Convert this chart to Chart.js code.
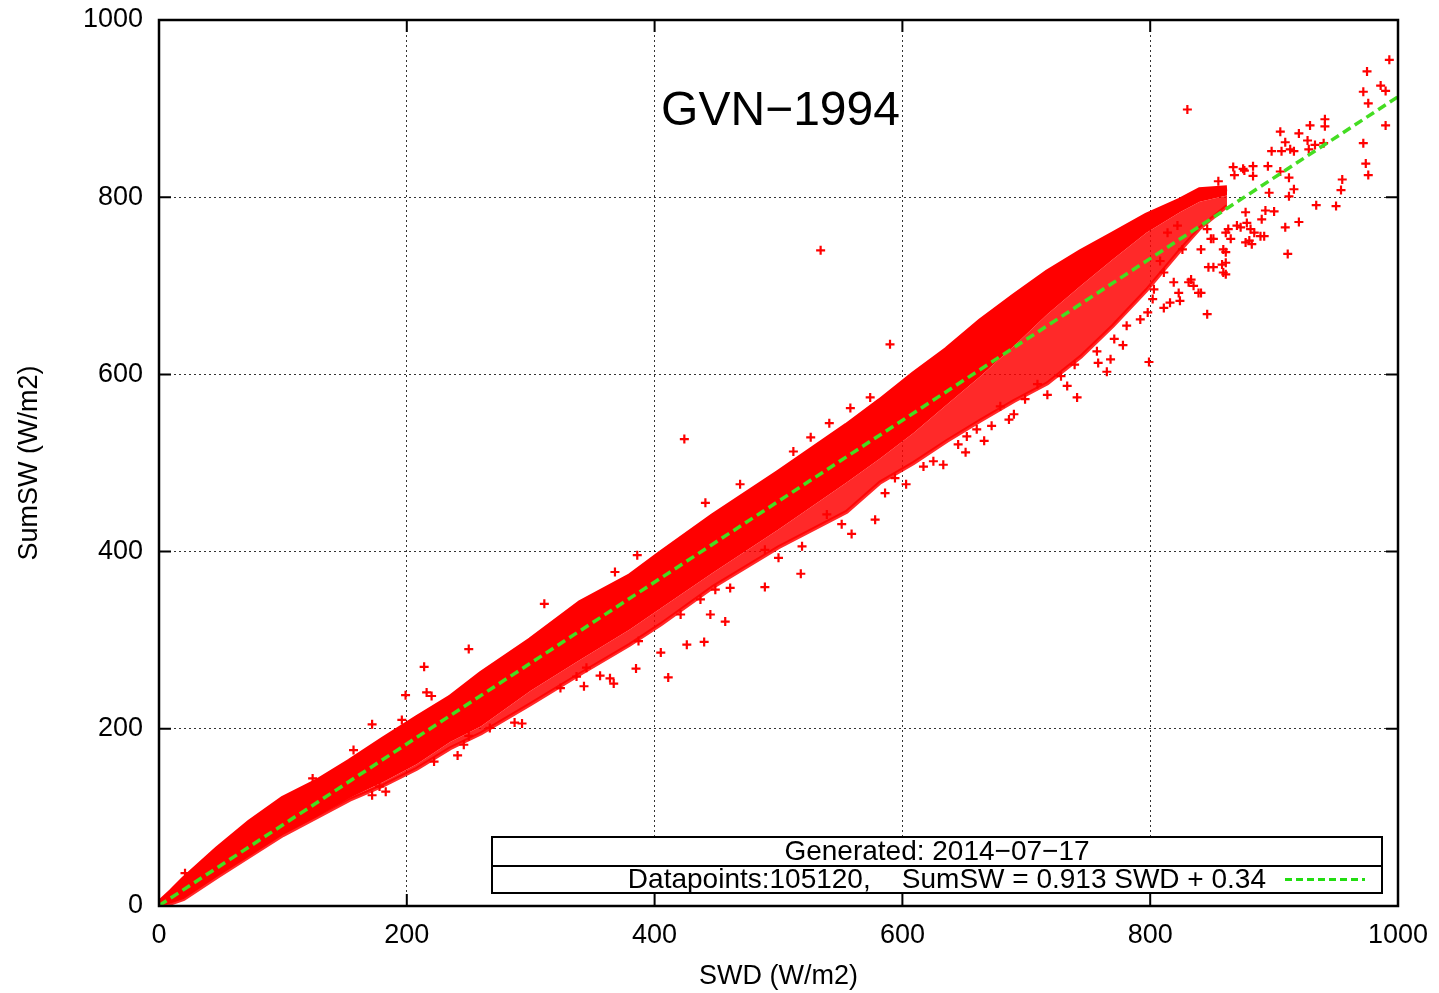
<!DOCTYPE html>
<html>
<head>
<meta charset="utf-8">
<title>GVN-1994 SumSW vs SWD</title>
<script src="https://cdn.jsdelivr.net/npm/chart.js@4.4.1/dist/chart.umd.min.js"></script>
<style>
  html, body { margin: 0; padding: 0; background: #fff; }
  #plot { display: block; }
</style>
</head>
<body>
<canvas id="plot" width="1439" height="993"></canvas>
<script>
const STATION = "GVN\u22121994";
const GENERATED = "Generated: 2014\u221207\u221217";
const DATAPOINTS = 105120;
const FIT_SLOPE = 0.913;
const FIT_OFFSET = 0.34;

const AXIS_TICKS = [0, 200, 400, 600, 800, 1000];
const FONT = "'Liberation Sans', Arial, sans-serif";

// outline of the packed point cloud, sampled along SWD
const bandSwd    = [0, 10, 20, 47, 73, 100, 127, 154, 181, 208, 235, 260, 300, 340, 380, 405, 447, 500, 555, 582, 609, 636, 663, 690, 717, 744, 770, 797, 824, 840, 862];
const bandTop    = [3, 16, 30, 64, 94, 121, 140, 163, 188, 212, 235, 262, 300, 342, 372, 398, 440, 489, 542, 570, 600, 628, 660, 688, 715, 738, 758, 779, 796, 808, 810];
const bandCore   = [0, 3, 8, 33, 56, 80, 100, 122, 140, 160, 185, 203, 243, 278, 312, 336, 376, 425, 478, 505, 534, 566, 598, 632, 668, 700, 730, 760, 783, 795, 802];
const bandFringe = [0, 3, 8, 33, 56, 80, 100, 120, 136, 155, 178, 195, 228, 262, 295, 318, 360, 405, 445, 478, 500, 525, 548, 570, 590, 620, 655, 695, 740, 765, 790];

// loose points around the cloud
const outSwd = [993, 975, 972, 986, 990, 976, 990, 972, 974, 976, 955, 954, 950, 934, 920, 909, 911, 830, 905, 920,
  929, 941, 941, 909, 913, 898, 906, 927, 933, 940, 928, 895, 905, 912, 916, 896, 912, 883, 875, 883,
  868, 893, 900, 877, 890, 892, 870, 881, 884, 877, 882, 861, 865, 861, 861, 861, 851, 846, 846, 849,
  841, 841, 835, 833, 823, 816, 819, 826, 822, 811, 808, 814, 803, 798, 802, 867, 876, 855, 916, 741,
  733, 765, 799, 758, 768, 717, 709, 699, 690, 686, 679, 672, 666, 660, 651, 645, 728, 739, 771, 781,
  792, 811, 824, 839, 831, 847, 859, 858, 851, 859, 863, 873, 878, 880, 889, 757, 778, 652, 534, 590,
  424, 441, 469, 386, 368, 311, 518, 489, 578, 559, 457, 445, 426, 440, 405, 387, 633, 603, 594, 586,
  551, 539, 519, 500, 489, 461, 449, 437, 421, 625, 617, 558, 541, 526, 512, 574, 411, 250, 214, 216,
  220, 199, 196, 172, 385, 367, 364, 356, 345, 337, 343, 324, 287, 293, 246, 250, 267, 157, 124, 21,
  241, 183, 172, 178, 222];
const outSum = [955, 942, 919, 926, 920, 906, 881, 861, 838, 825, 820, 808, 790, 791, 772, 766, 736, 899, 874, 872,
  881, 888, 880, 862, 854, 852, 852, 864, 859, 861, 854, 835, 829, 822, 809, 805, 801, 835, 832, 824,
  825, 785, 784, 783, 775, 756, 768, 764, 760, 749, 747, 760, 753, 738, 726, 713, 721, 668, 764, 753,
  741, 692, 700, 707, 692, 681, 704, 741, 768, 715, 728, 760, 696, 670, 685, 834, 830, 818, 852, 574,
  587, 603, 614, 613, 617, 577, 589, 572, 555, 549, 564, 542, 525, 538, 512, 521, 598, 611, 640, 655,
  662, 675, 683, 692, 704, 721, 715, 724, 753, 741, 764, 766, 771, 751, 756, 626, 633, 530, 740, 634,
  527, 455, 476, 396, 377, 341, 375, 360, 436, 420, 321, 329, 295, 298, 286, 299, 498, 476, 483, 466,
  431, 442, 406, 393, 402, 359, 357, 346, 329, 502, 496, 562, 545, 529, 513, 574, 258, 290, 270, 241,
  237, 238, 210, 205, 268, 251, 257, 260, 269, 259, 248, 246, 207, 206, 182, 192, 201, 176, 144, 37,
  170, 129, 125, 135, 163];

function pairs(xs, ys) {
  return xs.map((x, i) => ({ x, y: ys[i] }));
}

// gnuplot-style frame with inward ticks on all four sides
const frameTicks = {
  id: "frameTicks",
  afterDraw(chart) {
    const { ctx, chartArea: a, scales: { x, y } } = chart;
    const len = 12;
    ctx.save();
    ctx.strokeStyle = "#000";
    ctx.setLineDash([]);
    ctx.lineWidth = 2;
    ctx.beginPath();
    AXIS_TICKS.forEach((v) => {
      const px = x.getPixelForValue(v);
      ctx.moveTo(px, a.bottom); ctx.lineTo(px, a.bottom - len);
      ctx.moveTo(px, a.top); ctx.lineTo(px, a.top + len);
      const py = y.getPixelForValue(v);
      ctx.moveTo(a.left, py); ctx.lineTo(a.left + len, py);
      ctx.moveTo(a.right, py); ctx.lineTo(a.right - len, py);
    });
    ctx.stroke();
    ctx.lineWidth = 2.5;
    ctx.strokeRect(a.left, a.top, a.right - a.left, a.bottom - a.top);
    ctx.restore();
  },
};

// station name inside the plot and the boxed key in the lower right
const annotations = {
  id: "annotations",
  afterDatasetsDraw(chart) {
    const { ctx, chartArea: a, scales: { x } } = chart;
    ctx.save();
    ctx.fillStyle = "#000";
    ctx.font = "48px " + FONT;
    ctx.textAlign = "center";
    ctx.textBaseline = "alphabetic";
    ctx.fillText(STATION, x.getPixelForValue(500) + 2, a.top + 105);

    const right = a.right - 16;
    const left = a.left + 333;
    const bottom = a.bottom - 13;
    const top = bottom - 56;
    const mid = top + 29;
    ctx.fillStyle = "#fff";
    ctx.fillRect(left, top, right - left, bottom - top);
    ctx.strokeStyle = "#000";
    ctx.lineWidth = 2;
    ctx.strokeRect(left, top, right - left, bottom - top);
    ctx.beginPath();
    ctx.moveTo(left, mid);
    ctx.lineTo(right, mid);
    ctx.stroke();

    ctx.fillStyle = "#000";
    ctx.font = "28px " + FONT;
    ctx.textBaseline = "middle";
    ctx.textAlign = "center";
    ctx.fillText(GENERATED, (left + right) / 2, (top + mid) / 2 + 1);
    ctx.textAlign = "right";
    const fitText = "Datapoints:" + DATAPOINTS + ",    SumSW = " + FIT_SLOPE + " SWD + " + FIT_OFFSET;
    ctx.fillText(fitText, right - 116, (mid + bottom) / 2 + 1);

    ctx.strokeStyle = "#22dd11";
    ctx.lineWidth = 3;
    ctx.setLineDash([7, 4]);
    ctx.beginPath();
    ctx.moveTo(right - 97, (mid + bottom) / 2);
    ctx.lineTo(right - 17, (mid + bottom) / 2);
    ctx.stroke();
    ctx.restore();
  },
};

const axisFont = { family: FONT, size: 27 };
const plainTick = (v) => String(v);

new Chart(document.getElementById("plot"), {
  type: "line",
  data: {
    datasets: [
      {
        label: "fit",
        data: [
          { x: 0, y: FIT_SLOPE * 0 + FIT_OFFSET },
          { x: 1000, y: FIT_SLOPE * 1000 + FIT_OFFSET },
        ],
        borderColor: "#44dd22",
        borderWidth: 3.5,
        borderDash: [9, 5],
        pointRadius: 0,
        fill: false,
      },
      {
        label: "loose",
        data: pairs(outSwd, outSum),
        showLine: false,
        pointStyle: "cross",
        pointRadius: 4.5,
        pointBorderWidth: 2.2,
        pointBorderColor: "#f00",
        pointBackgroundColor: "#f00",
      },
      {
        label: "top",
        data: pairs(bandSwd, bandTop),
        borderColor: "#f00",
        borderWidth: 6,
        backgroundColor: "#f00",
        pointRadius: 0,
        fill: "+1",
      },
      {
        label: "core",
        data: pairs(bandSwd, bandCore),
        borderWidth: 0,
        borderColor: "rgba(255,0,0,0)",
        backgroundColor: "rgba(255,0,0,0.84)",
        pointRadius: 0,
        fill: "+1",
      },
      {
        label: "fringe",
        data: pairs(bandSwd, bandFringe),
        borderWidth: 4,
        borderColor: "rgba(255,0,0,0.84)",
        pointRadius: 0,
        fill: false,
      },
    ],
  },
  options: {
    responsive: false,
    animation: false,
    events: [],
    layout: { padding: { left: 0, top: 20, right: 41, bottom: 0 } },
    plugins: { legend: { display: false }, tooltip: { enabled: false } },
    scales: {
      x: {
        type: "linear",
        min: 0,
        max: 1000,
        afterBuildTicks: (s) => { s.ticks = AXIS_TICKS.map((v) => ({ value: v })); },
        afterFit: (s) => { s.height = 87; },
        ticks: { color: "#000", font: axisFont, padding: 0, maxRotation: 0, callback: plainTick },
        grid: { color: "rgba(0,0,0,0.8)", lineWidth: 1, drawTicks: true, tickLength: 13, tickColor: "rgba(0,0,0,0)" },
        border: { display: false, dash: [2, 3] },
        title: { display: true, text: "SWD (W/m2)", color: "#000", font: axisFont, padding: { top: 2, bottom: 0 } },
      },
      y: {
        type: "linear",
        min: 0,
        max: 1000,
        afterBuildTicks: (s) => { s.ticks = AXIS_TICKS.map((v) => ({ value: v })); },
        afterFit: (s) => { s.width = 159; },
        ticks: { color: "#000", font: axisFont, padding: 0, callback: plainTick },
        grid: { color: "rgba(0,0,0,0.8)", lineWidth: 1, drawTicks: true, tickLength: 16, tickColor: "rgba(0,0,0,0)" },
        border: { display: false, dash: [2, 3] },
        title: { display: true, text: "SumSW (W/m2)", color: "#000", font: axisFont, padding: { top: 13, bottom: 0 } },
      },
    },
  },
  plugins: [annotations, frameTicks],
});
</script>
</body>
</html>
